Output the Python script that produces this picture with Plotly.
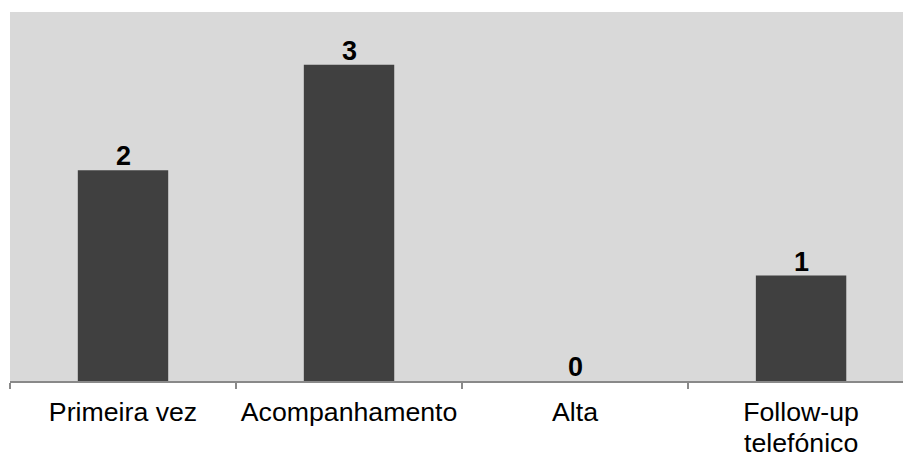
import plotly.graph_objects as go

categories = ["Primeira vez", "Acompanhamento", "Alta", "Follow-up telefónico"]
label_line1 = ["Primeira vez", "Acompanhamento", "Alta", "Follow-up"]
label_line2 = ["", "", "", "telefónico"]
values = [2, 3, 0, 1]

fig = go.Figure()
fig.add_trace(go.Bar(
    x=categories,
    y=values,
    width=0.4,
    marker=dict(color="#404040", line=dict(width=0)),
))

for c, v in zip(categories, values):
    fig.add_annotation(
        x=c, y=v, text=str(v), showarrow=False,
        xanchor="center", yanchor="bottom", yshift=-3,
        font=dict(family="Liberation Sans, Arial", size=27, color="#000000", weight="bold"),
    )

for c, t in zip(categories, label_line2):
    if t:
        fig.add_annotation(
            x=c, xref="x", y=0, yref="paper", text=t, showarrow=False,
            xanchor="center", yanchor="middle", yshift=-62,
            font=dict(family="Liberation Sans, Arial", size=26.7, color="#000000"),
        )

fig.update_layout(
    width=903,
    height=453,
    margin=dict(l=10, r=0, t=12, b=72, autoexpand=False),
    paper_bgcolor="#ffffff",
    plot_bgcolor="#d9d9d9",
    showlegend=False,
    font=dict(family="Liberation Sans, Arial", size=26.7, color="#000000"),
    xaxis=dict(
        type="category",
        range=[-0.5, 3.451],
        showline=True,
        linecolor="#898989",
        linewidth=2,
        ticks="outside",
        tickson="boundaries",
        ticklen=6,
        tickcolor="#898989",
        tickwidth=2,
        showgrid=False,
        tickmode="array",
        tickvals=categories,
        ticktext=label_line1,
        tickfont=dict(size=26.7),
        tickangle=0,
        automargin=False,
        ticklabelstandoff=6,
    ),
    yaxis=dict(
        range=[0, 3.5],
        visible=False,
        showgrid=False,
        automargin=False,
    ),
)

fig.write_html(
    "out.html",
    config={"displayModeBar": False},
    post_script="document.body.style.margin='0';document.body.style.overflow='hidden';",
)
